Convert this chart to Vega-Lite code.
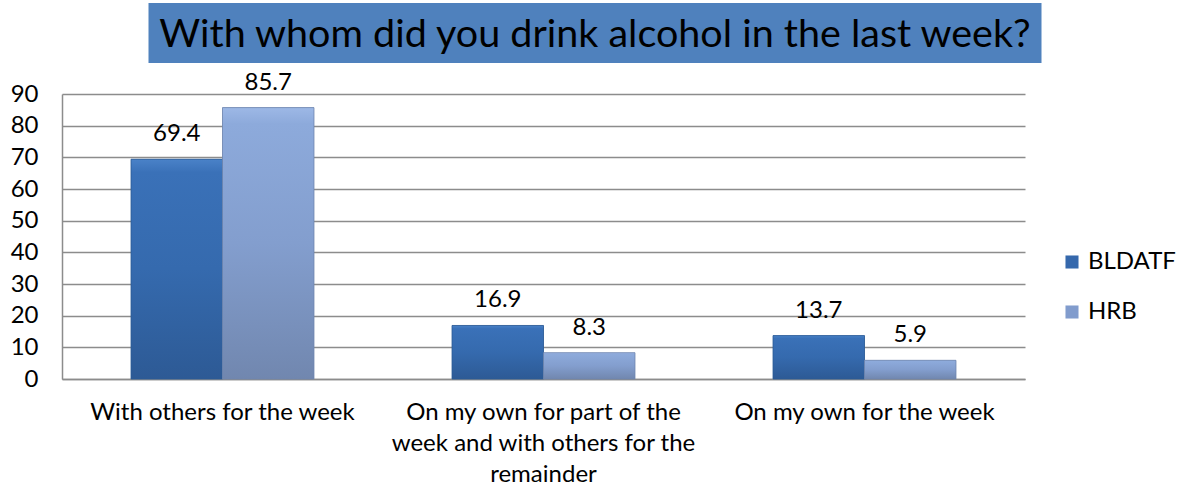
{
  "$schema": "https://vega.github.io/schema/vega-lite/v6.json",
  "padding": {"left": 10, "top": 3, "right": 0, "bottom": 0},
  "background": "white",
  "config": {"font": "Lato", "view": {"stroke": null}},
  "datasets": {
    "heading": [{"text": "With whom did you drink alcohol in the last week?"}],
    "survey": [
      {"category": "With others for the week", "series": "BLDATF", "value": 69.4},
      {"category": "With others for the week", "series": "HRB", "value": 85.7},
      {"category": "On my own for part of the week and with others for the remainder", "series": "BLDATF", "value": 16.9},
      {"category": "On my own for part of the week and with others for the remainder", "series": "HRB", "value": 8.3},
      {"category": "On my own for the week", "series": "BLDATF", "value": 13.7},
      {"category": "On my own for the week", "series": "HRB", "value": 5.9}
    ]
  },
  "spacing": 7,
  "center": true,
  "resolve": {"legend": {"color": "independent"}},
  "vconcat": [
    {
      "width": 893,
      "height": 60,
      "data": {"name": "heading"},
      "view": {"fill": "#4F81BD", "stroke": null},
      "mark": {"type": "text", "fontSize": 39.5, "color": "black", "font": "Lato", "dy": 2},
      "encoding": {
        "text": {"field": "text"},
        "y": {"datum": "t", "type": "nominal", "axis": {"orient": "right", "labels": false, "ticks": false, "domain": false, "title": null, "grid": false, "minExtent": 48}}
      }
    },
    {
      "width": 963,
      "height": 285,
      "data": {"name": "survey"},
      "encoding": {
        "x": {
          "field": "category", "type": "nominal", "sort": null,
          "scale": {"paddingInner": 0.43, "paddingOuter": 0.215},
          "axis": {
            "title": null, "labelAngle": 0, "labelFontSize": 24, "labelColor": "black",
            "labelPadding": 21, "ticks": false, "domainColor": "#8c8c8c", "domainWidth": 1.5,
            "labelLineHeight": 31, "labelLimit": 400, "labelBaseline": "top",
            "labelExpr": "datum.label == 'On my own for part of the week and with others for the remainder' ? ['On my own for part of the', 'week and with others for the', 'remainder'] : datum.label"
          }
        },
        "xOffset": {"field": "series", "type": "nominal", "scale": {"domain": ["BLDATF", "HRB"], "paddingInner": 0, "paddingOuter": 0}},
        "y": {
          "field": "value", "type": "quantitative",
          "scale": {"domain": [0, 90], "nice": false},
          "axis": {
            "title": null, "values": [0, 10, 20, 30, 40, 50, 60, 70, 80, 90],
            "labelFontSize": 24, "labelColor": "black", "ticks": false, "labelPadding": 24,
            "gridColor": "#8c8c8c", "gridWidth": 1.5, "domainColor": "#8c8c8c", "domainWidth": 1.5
          }
        }
      },
      "layer": [
        {
          "mark": {"type": "bar"},
          "encoding": {
            "color": {
              "field": "series", "type": "nominal",
              "scale": {"domain": ["BLDATF", "HRB"], "range": ["#3568AC", "#819CCD"]},
              "legend": {
                "title": null, "orient": "none", "legendX": 998, "legendY": 156, "padding": 0,
                "symbolType": "square", "symbolSize": 170, "labelFontSize": 24,
                "labelColor": "black", "rowPadding": 26, "symbolStrokeWidth": 0
              }
            }
          }
        },
        {
          "transform": [{"filter": "datum.series == 'BLDATF'"}],
          "mark": {
            "type": "bar",
            "stroke": "#2c5a94", "strokeWidth": 0.8,
            "fill": {"gradient": "linear", "x1": 0, "y1": 0, "x2": 0, "y2": 1,
              "stops": [{"offset": 0, "color": "#4A82C8"}, {"offset": 0.06, "color": "#3A71B8"}, {"offset": 0.5, "color": "#356AAE"}, {"offset": 1, "color": "#2D5A95"}]}
          }
        },
        {
          "transform": [{"filter": "datum.series == 'HRB'"}],
          "mark": {
            "type": "bar",
            "stroke": "#6f85ad", "strokeWidth": 0.8,
            "fill": {"gradient": "linear", "x1": 0, "y1": 0, "x2": 0, "y2": 1,
              "stops": [{"offset": 0, "color": "#9DB8E6"}, {"offset": 0.06, "color": "#8DAADB"}, {"offset": 0.5, "color": "#839ECE"}, {"offset": 1, "color": "#7187AF"}]}
          }
        },
        {
          "mark": {"type": "text", "dy": -18, "baseline": "alphabetic", "fontSize": 24, "color": "black"},
          "encoding": {"text": {"field": "value", "type": "quantitative", "format": ".1f"}}
        }
      ]
    }
  ]
}
